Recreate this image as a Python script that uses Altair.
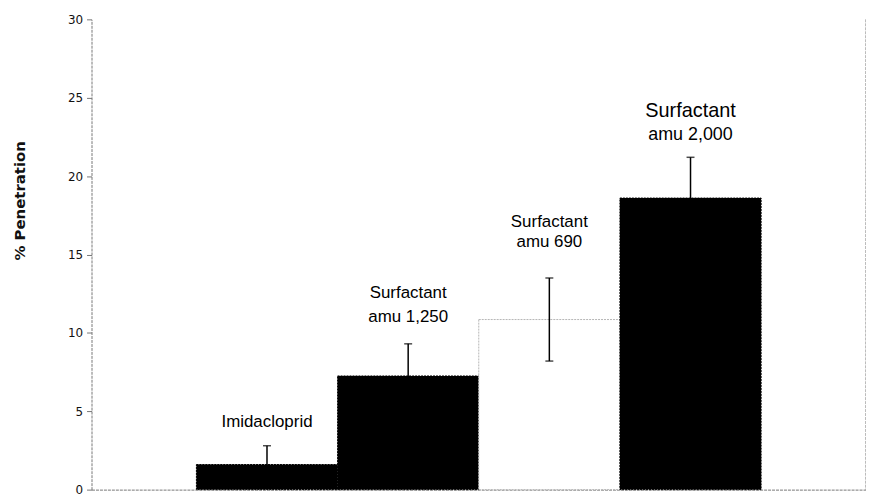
import altair as alt
import pandas as pd

categories = ["Imidacloprid", "Surfactant amu 1,250", "Surfactant amu 690", "Surfactant amu 2,000"]
penetration = [1.6, 7.25, 10.85, 18.6]
error = [1.2, 2.05, 2.65, 2.6]
label_top = ["", "Surfactant", "Surfactant", "Surfactant"]
label_bottom = ["Imidacloprid", "amu 1,250", "amu 690", "amu 2,000"]
y_ticks = [0, 5, 10, 15, 20, 25, 30]

df = pd.DataFrame({
    "cat": categories,
    "val": penetration,
    "err": error,
    "top": label_top,
    "bottom": label_bottom,
})
df["hi"] = df["val"] + df["err"]
df["lo"] = df["val"] - df["err"]

W, H = 779, 473
LABEL_FONT = "Liberation Sans"

x_axis = alt.Axis(labels=False, ticks=False, title=None, grid=False,
                  domainColor="#777777", domainWidth=1, domainDash=[3, 1])
x_scale = alt.Scale(paddingInner=0, paddingOuter=0.743)
y_scale = alt.Scale(domain=[0, 30], nice=False)
y_axis = alt.Axis(values=y_ticks, title="% Penetration", grid=False,
                  domainColor="#777777", domainDash=[3, 1],
                  tickColor="#777777", tickSize=5,
                  labelFont="DejaVu Sans", labelFontSize=12, labelColor="#111111",
                  labelPadding=4,
                  titleFont="DejaVu Sans", titleFontSize=15, titleFontWeight="bold",
                  titleColor="#111111", titleAngle=-90, titleAlign="center",
                  titleBaseline="middle", titleX=-72, titleY=182)


def X():
    return alt.X("cat:N", sort=categories, scale=x_scale, axis=x_axis)


def Y(field):
    return alt.Y(field, scale=y_scale, axis=y_axis, title="% Penetration")


base = alt.Chart(df)

bars = base.mark_bar(strokeWidth=1, strokeDash=[2, 1]).encode(
    x=X(),
    y=Y("val:Q"),
    fill=alt.condition(alt.datum.cat == "Surfactant amu 690", alt.value("white"), alt.value("black")),
    stroke=alt.condition(alt.datum.cat == "Surfactant amu 690", alt.value("#b5b5b5"), alt.value("black")),
)

err_rule = base.mark_rule(color="black", strokeWidth=1.5).encode(
    x=X(), y=Y("lo:Q"), y2="hi:Q",
)
cap_hi = base.mark_tick(color="black", size=8, thickness=1.5).encode(x=X(), y=Y("hi:Q"))
cap_lo = base.mark_tick(color="black", size=8, thickness=1.5).encode(x=X(), y=Y("lo:Q"))

# right-hand frame line of the plot area
frame_right = alt.Chart(pd.DataFrame({"f": [0]})).mark_rule(
    color="#777777", strokeWidth=1, strokeDash=[3, 1]
).encode(x=alt.value(W), y=alt.value(0), y2=alt.value(H))

# label offsets (pixels above the error-bar top), per category: (top line, bottom line, sizes)
label_style = {
    "Imidacloprid": (None, -24, 17, 17),
    "Surfactant amu 1,250": (-51, -27, 17, 17),
    "Surfactant amu 690": (-56, -36, 17, 17),
    "Surfactant amu 2,000": (-47, -22, 20, 18),
}

texts = []
for cat, (dy_top, dy_bot, fs_top, fs_bot) in label_style.items():
    sub = base.transform_filter(alt.datum.cat == cat)
    if dy_top is not None:
        texts.append(sub.mark_text(font=LABEL_FONT, fontSize=fs_top, color="black",
                                   baseline="middle", align="center", dy=dy_top).encode(
            x=X(), y=Y("hi:Q"), text="top:N"))
    texts.append(sub.mark_text(font=LABEL_FONT, fontSize=fs_bot, color="black",
                               baseline="middle", align="center", dy=dy_bot).encode(
        x=X(), y=Y("hi:Q"), text="bottom:N"))

chart = alt.layer(bars, err_rule, cap_hi, cap_lo, frame_right, *texts).properties(
    width=W, height=H,
    autosize=alt.AutoSizeParams(type="none"),
    padding={"left": 84, "top": 10, "right": 0, "bottom": 4},
    background="white",
).configure_view(stroke=None)

chart.save("out.html", embed_options={"renderer": "svg", "actions": False})
